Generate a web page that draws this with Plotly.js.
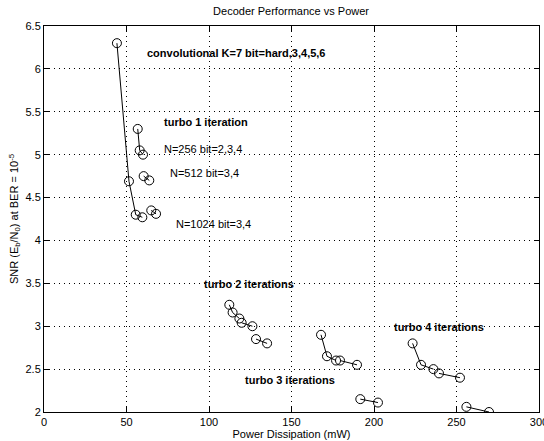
<!DOCTYPE html>
<html>
<head>
<meta charset="utf-8">
<script src="https://cdn.plot.ly/plotly-3.0.1.min.js"></script>
<style>html,body{margin:0;padding:0;background:#fff;}#chart{width:544px;height:441px;}</style>
</head>
<body>
<div id="chart"></div>
<script>
// Convolutional K=7
const convX = [44.2, 51.5, 55.6, 59.6];
const convY = [6.30, 4.69, 4.30, 4.27];
// Turbo 1 iteration
const t1n256X = [56.8, 58.0, 60.0];
const t1n256Y = [5.30, 5.05, 5.00];
const t1n512X = [60.4, 63.8];
const t1n512Y = [4.75, 4.70];
const t1n1024X = [65.0, 67.9];
const t1n1024Y = [4.35, 4.31];
// Turbo 2 iterations
const t2n256X = [112.3, 114.3, 118.4];
const t2n256Y = [3.25, 3.16, 3.09];
const t2n512X = [119.8, 126.3];
const t2n512Y = [3.04, 3.00];
const t2n1024X = [128.5, 135.2];
const t2n1024Y = [2.85, 2.80];
// Turbo 3 iterations
const t3n256X = [167.9, 171.5, 177.0];
const t3n256Y = [2.90, 2.65, 2.60];
const t3n512X = [179.4, 189.7];
const t3n512Y = [2.60, 2.55];
const t3n1024X = [191.7, 202.4];
const t3n1024Y = [2.15, 2.11];
// Turbo 4 iterations
const t4n256X = [223.4, 228.5, 236.0];
const t4n256Y = [2.80, 2.55, 2.50];
const t4n512X = [239.4, 252.1];
const t4n512Y = [2.45, 2.40];
const t4n1024X = [256.0, 269.7];
const t4n1024Y = [2.06, 2.00];

// Labels
const labelTexts = ["convolutional K=7 bit=hard,3,4,5,6", "turbo 1 iteration", "N=256 bit=2,3,4", "N=512 bit=3,4", "N=1024 bit=3,4", "turbo 2 iterations", "turbo 3 iterations", "turbo 4 iterations"];
const labelX = [61.2, 71.5, 71.5, 75.2, 78.8, 95.8, 120.6, 211.0];
const labelY = [6.18, 5.38, 5.07, 4.79, 4.19, 3.49, 2.37, 2.99];
const labelBold = [true, true, false, false, false, true, true, true];

const xTicks = [0, 50, 100, 150, 200, 250, 300];
const yTicks = [2, 2.5, 3, 3.5, 4, 4.5, 5, 5.5, 6, 6.5];

const groups = [
  [convX, convY], [t1n256X, t1n256Y], [t1n512X, t1n512Y], [t1n1024X, t1n1024Y],
  [t2n256X, t2n256Y], [t2n512X, t2n512Y], [t2n1024X, t2n1024Y],
  [t3n256X, t3n256Y], [t3n512X, t3n512Y], [t3n1024X, t3n1024Y],
  [t4n256X, t4n256Y], [t4n512X, t4n512Y], [t4n1024X, t4n1024Y]
];

const FONT = "Liberation Sans, Arial, Helvetica, sans-serif";

const traces = groups.map(g => ({
  x: g[0], y: g[1], type: 'scatter', mode: 'lines+markers',
  line: {color: '#000', width: 1},
  marker: {symbol: 'circle-open', size: 9, color: '#000', line: {width: 1, color: '#000'}},
  showlegend: false, hoverinfo: 'skip'
}));

const annotations = labelTexts.map((t, i) => ({
  x: labelX[i], y: labelY[i], xref: 'x', yref: 'y',
  text: labelBold[i] ? '<b>' + t + '</b>' : t,
  showarrow: false, xanchor: 'left', yanchor: 'middle',
  font: {family: FONT, size: 11, color: '#000'}
}));

const axisCommon = {
  showline: true, linecolor: '#000', linewidth: 1, mirror: 'ticks',
  ticks: 'inside', ticklen: 5, tickcolor: '#000', tickwidth: 1,
  showgrid: true, gridcolor: '#000', gridwidth: 1, griddash: '1px,4px',
  zeroline: false, tickfont: {family: FONT, size: 11, color: '#000'},
  ticklabeloverflow: 'allow'
};

const layout = {
  width: 544, height: 441,
  margin: {l: 44, r: 5, t: 26, b: 29},
  paper_bgcolor: '#fff', plot_bgcolor: '#fff',
  font: {family: FONT, size: 11, color: '#000'},
  title: {text: 'Decoder Performance vs Power', font: {family: FONT, size: 11, color: '#000'},
          x: 0.535, xref: 'container', xanchor: 'center', y: 0.975, yref: 'container', yanchor: 'middle'},
  xaxis: Object.assign({}, axisCommon, {
    range: [0, 300], tickvals: xTicks, ticktext: xTicks.map(String),
    title: {text: 'Power Dissipation (mW)', font: {family: FONT, size: 11, color: '#000'}, standoff: 0}
  }),
  yaxis: Object.assign({}, axisCommon, {
    range: [2, 6.5], tickvals: yTicks, ticktext: yTicks.map(String),
    title: {text: 'SNR (E<sub>b</sub>/N<sub>0</sub>) at BER = 10<sup>-5</sup>', font: {family: FONT, size: 11, color: '#000'}, standoff: 4}
  }),
  annotations: annotations
};

Plotly.newPlot('chart', traces, layout, {displayModeBar: false, staticPlot: true});
</script>
</body>
</html>
